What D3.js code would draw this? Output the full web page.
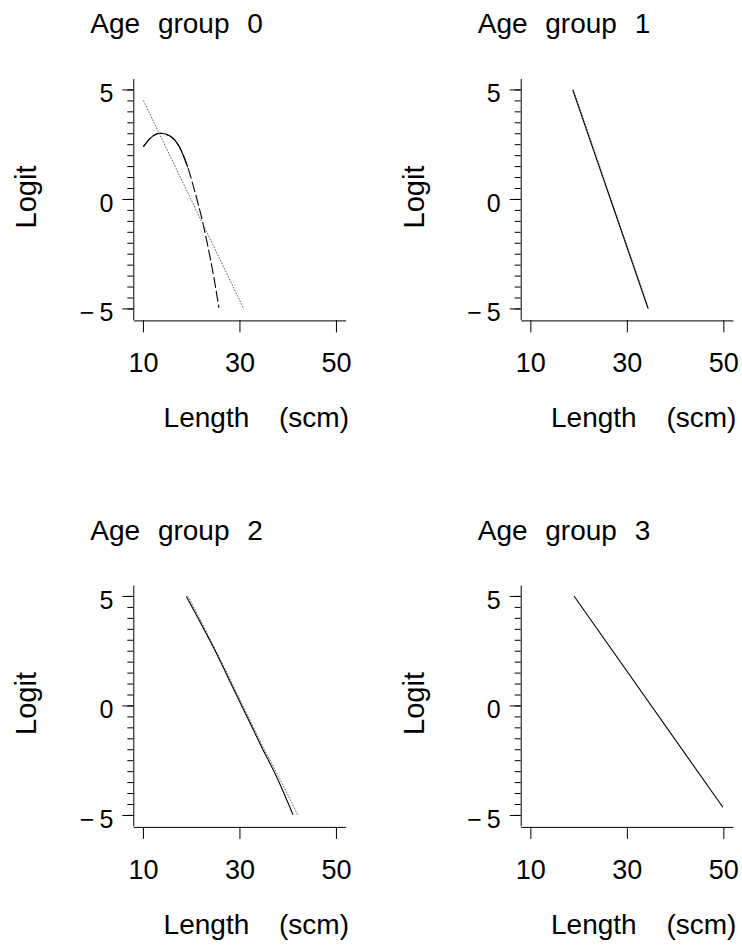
<!DOCTYPE html>
<html>
<head>
<meta charset="utf-8">
<script src="https://cdn.jsdelivr.net/npm/d3@7"></script>
<style>
  body { margin: 0; background: #fff; }
  text { font-family: "Liberation Sans", Arial, Helvetica, sans-serif; fill: #000; }
</style>
</head>
<body>
<div id="chart"></div>
<script>
// Panel titles and axis ticks
var titles = ['Age group 0', 'Age group 1', 'Age group 2', 'Age group 3'];
var xTicks = [10, 30, 50];
var yTicks = [-5, 0, 5];
var yMinorTicks = [-5, -4.5, -4, -3.5, -3, -2.5, -2, -1.5, -1, -0.5, 0, 0.5, 1, 1.5, 2, 2.5, 3, 3.5, 4, 4.5, 5];

// Fitted curves, [length, logit]
var group0Solid = [[10.1, 2.39], [11.7, 2.81], [13.5, 3.0], [15.5, 2.89], [17.6, 2.36], [19.3, 1.44]];
var group0Dashed = [[10.1, 2.39], [11.7, 2.81], [13.5, 3.0], [15.5, 2.89], [17.6, 2.36], [19.3, 1.44],
  [20.7, 0.38], [22.3, -0.99], [23.5, -2.21], [24.7, -3.58], [25.75, -4.98]];
var group0Dotted = [[10.1, 4.49], [30.9, -5.02]];
var group1Solid = [[18.8, 4.97], [34.4, -5.0]];
var group1Dotted = [[18.9, 5.0], [34.5, -5.0]];
var group2Solid = [[19.0, 4.98], [24.86, 2.54], [29.36, 0.49], [34.54, -1.87], [37.98, -3.39], [41.1, -4.99]];
var group2Dotted = [[19.3, 5.0], [24.9, 2.6], [29.6, 0.5], [34.9, -1.9], [38.6, -3.45], [42.1, -5.0]];
var group3Solid = [[19.04, 5.0], [49.9, -4.65]];

var series = [
  [{ pts: group0Dashed, style: 'dash' }, { pts: group0Solid, style: 'solid' }, { pts: group0Dotted, style: 'dot' }],
  [{ pts: group1Dotted, style: 'dot' }, { pts: group1Solid, style: 'solid' }],
  [{ pts: group2Dotted, style: 'dot' }, { pts: group2Solid, style: 'solid' }],
  [{ pts: group3Solid, style: 'solid' }]
];

// Create SVG Element
var chart_width = 742;
var chart_height = 950;
var plot_width = 212.3;
var plot_height = 240.9;
var colX = [133.3, 520.7];
var rowY = [78.5, 585];

var svg = d3.select('#chart')
  .append('svg')
  .attr('width', chart_width)
  .attr('height', chart_height);

// Create scales
var xScale = d3.scaleLinear()
  .domain([8, 52])
  .range([0, plot_width]);

var yScale = d3.scaleLinear()
  .domain([-5.5, 5.5])
  .range([plot_height, 0]);

var line = d3.line()
  .curve(d3.curveMonotoneX)
  .x(d => xScale(d[0]))
  .y(d => yScale(d[1]));

var fmt = d => d < 0 ? '\u2212\u2009' + Math.abs(d) : String(d);

titles.forEach(function (title, i) {
  var ox = colX[i % 2];
  var oy = rowY[Math.floor(i / 2)];
  var g = svg.append('g').attr('transform', 'translate(' + ox + ',' + oy + ')');

  // Title
  g.append('text')
    .attr('x', -43)
    .attr('y', -45.5)
    .attr('font-size', 28)
    .attr('word-spacing', 10)
    .text(title);

  // Y axis: minor then major ticks
  g.append('g')
    .call(d3.axisLeft(yScale).tickValues(yMinorTicks).tickSize(6).tickSizeOuter(0).tickFormat(''))
    .call(a => a.selectAll('line,path').attr('stroke', '#000'));

  g.append('g')
    .call(d3.axisLeft(yScale).tickValues(yTicks).tickSize(11).tickSizeOuter(0).tickPadding(9).tickFormat(fmt))
    .call(a => a.select('.domain').remove())
    .call(a => a.selectAll('line').attr('stroke', '#000'))
    .call(a => a.selectAll('text')
      .attr('dy', '0.5em')
      .attr('font-size', 25)
      .attr('font-family', null));

  // X axis
  g.append('g')
    .attr('transform', 'translate(0,' + (plot_height + 1) + ')')
    .call(d3.axisBottom(xScale).tickValues(xTicks).tickSize(12).tickSizeOuter(0))
    .call(a => a.selectAll('line,path').attr('stroke', '#000'))
    .call(a => a.selectAll('text')
      .attr('y', 52)
      .attr('dy', 0)
      .attr('font-size', 27)
      .attr('font-family', null));

  // Axis labels
  g.append('text')
    .attr('x', 123)
    .attr('y', plot_height + 108)
    .attr('text-anchor', 'middle')
    .attr('font-size', 28)
    .attr('word-spacing', 22)
    .text('Length (scm)');

  g.append('text')
    .attr('transform', 'translate(-97,' + (plot_height / 2 - 2) + ') rotate(-90)')
    .attr('text-anchor', 'middle')
    .attr('font-size', 29)
    .text('Logit');

  // Curves
  g.selectAll('path.curve')
    .data(series[i])
    .enter()
    .append('path')
    .attr('class', 'curve')
    .attr('d', d => line(d.pts))
    .attr('fill', 'none')
    .attr('stroke', d => d.style === 'dot' ? '#555' : '#000')
    .attr('stroke-width', d => d.style === 'dot' ? 1 : 1.1)
    .attr('stroke-dasharray', d => d.style === 'dot' ? '1.5,1.5' : d.style === 'dash' ? '11,3' : null);
});
</script>
</body>
</html>
